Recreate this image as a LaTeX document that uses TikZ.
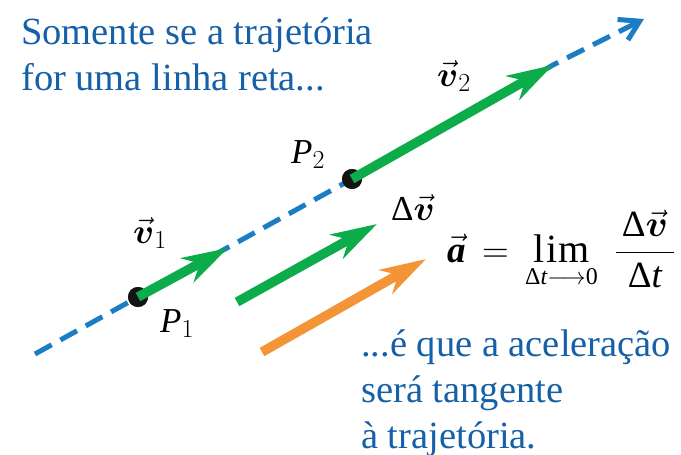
\documentclass[tikz,border=0pt]{standalone}
\usepackage{fix-cm}
\usepackage{amsmath,amssymb}
\usepackage{fontspec}
\setmainfont{Liberation Serif}
\usetikzlibrary{arrows.meta}
\definecolor{txtblue}{RGB}{22,96,168}
\definecolor{lineblue}{RGB}{27,125,196}
\definecolor{vgreen}{RGB}{12,172,75}
\definecolor{aorange}{RGB}{243,148,55}
\DeclareMathSizes{35}{35}{26}{20}
\DeclareMathSizes{37}{37}{24}{19}
\newcommand{\bvec}[1]{\vec{\boldsymbol{#1}}}
\newcommand{\limword}{\mbox{\fontsize{40}{40}\selectfont l\kern1.5pt i\kern1.5pt m}}
\tikzset{
  caption/.style={text=txtblue, inner sep=0pt, anchor=base west, align=left,
    font=\fontsize{38.5}{46}\selectfont},
  mlabel/.style={inner sep=0pt, anchor=base west, font=\fontsize{35}{40}\selectfont},
  dotnode/.style={circle, fill=black!92, inner sep=0pt, minimum size=20pt},
  traj/.style={lineblue, line width=5pt, dash pattern=on 19pt off 10pt,
    -{Straight Barb[length=19pt,width=23pt]}},
  vecarrow/.style={line width=9.5pt, -{Stealth[length=46pt,width=27pt,inset=14pt]}},
}
\begin{document}
\begin{tikzpicture}[x=1pt,y=-1pt]
\useasboundingbox (0,0) rectangle (681,455);
% points
\node[dotnode] (P1dot) at (138,297) {};
\node[dotnode] (P2dot) at (352,179) {};
\coordinate (v1tip) at (228,248);
\coordinate (v2tip) at (553,65);
% trajectory
\coordinate (trajstart) at (35,354);
\coordinate (trajend) at (644,19);
\draw[traj] (trajstart) -- (P1dot.center) -- (P2dot.center) -- (v2tip) -- (trajend);
\node[dotnode] at (P1dot) {};
\node[dotnode] at (P2dot) {};
\draw[vecarrow, vgreen] (P1dot.center) -- (v1tip);
\draw[vecarrow, vgreen] (P2dot.center) -- (v2tip);
% delta v and acceleration
\coordinate (dvstart) at (237,302);
\coordinate (dvtip) at (377,224);
\coordinate (astart) at (262,352);
\coordinate (atip) at (426,259);
\draw[vecarrow, vgreen] (dvstart) -- (dvtip);
\draw[vecarrow, aorange] (astart) -- (atip);
% labels
\node[mlabel] (v1lab) at (133,243) {$\bvec{v}_{1}$};
\node[mlabel] (v2lab) at (437,86) {$\bvec{v}_{2}$};
\node[mlabel] (P1lab) at (160,332) {$\text{\itshape P}_{1}$};
\node[mlabel] (P2lab) at (291,163) {$\text{\itshape P}_{2}$};
\node[mlabel] (dvlab) at (391,220) {$\text{Δ}\bvec{v}$};
\node[inner sep=0pt, anchor=base west, font=\fontsize{37}{42}\selectfont] (formula) at (447,262)
  {$\vec{\text{\bfseries\itshape a}}\,=\,\mathop{\limword}\limits_{\text{Δ\itshape t}\longrightarrow \text{0}}\;\dfrac{\,\text{Δ}\bvec{v}\,}{\text{Δ\itshape t}}$};
% captions
\node[caption] (captop) at (21,90) {Somente se a trajetória\\for uma linha reta...};
\node[caption] (capbot) at (361,448) {...é que a aceleração\\será tangente\\à trajetória.};
\end{tikzpicture}
\end{document}
